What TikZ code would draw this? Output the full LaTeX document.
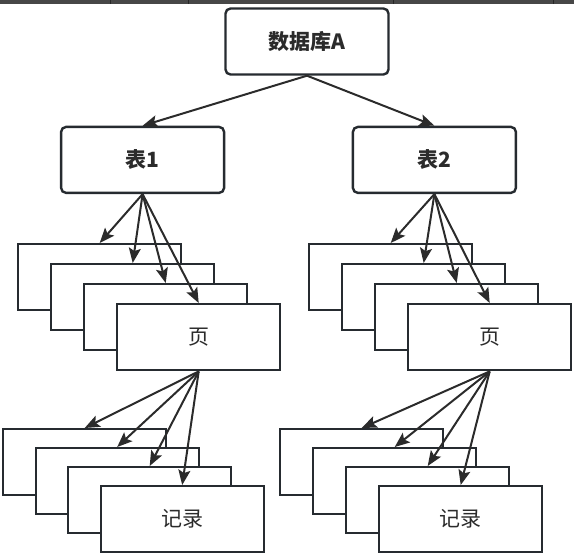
\documentclass[tikz,border=0pt]{standalone}
\usepackage{fontspec}
\newfontfamily\cjk{Noto Sans CJK SC}
\usetikzlibrary{arrows.meta, positioning}
\usepackage{xcolor}
\definecolor{linegray}{HTML}{262B30}
\definecolor{textgray}{HTML}{2B2B2B}
\definecolor{bargray}{HTML}{474747}

\begin{document}
\begin{tikzpicture}[
x=1pt, y=1pt,
roundbox/.style={draw=linegray,
line width=2.4pt,
rounded corners=5pt,
fill=white,
minimum width=163pt,
minimum height=66pt,
text=textgray,
font=\cjk\bfseries\fontsize{21}{25}\selectfont},
sheet/.style={draw=linegray,
line width=2.4pt,
fill=white,
minimum width=163pt,
minimum height=66pt,
anchor=north west,
text=textgray,
font=\cjk\fontsize{21}{25}\selectfont},
arrow/.style={-{Stealth[length=15pt, width=12pt, inset=3pt]}, line width=2pt, draw=textgray}
]
\useasboundingbox (0,0) rectangle (574,-555);

% strip along the top edge
\fill[bargray] (0,0) rectangle (574,-3.5);
\draw[black!85, line width=1pt] (110,0) -- (110,-3.5) (188.5,0) -- (188.5,-3.5)
(393.5,0) -- (393.5,-3.5) (553.5,0) -- (553.5,-3.5);

\node[roundbox] (db) at (307,-41.5) {数据库A};
\node[roundbox, below left=50pt and -1pt of db] (tbl1) {表1};
\node[roundbox, below right=50pt and -38pt of db] (tbl2) {表2};

% pages of table 1
\node[sheet] (page1a) at (17,-243) {};
\node[sheet] (page1b) at ([shift={(33,-20)}]page1a.north west) {};
\node[sheet] (page1c) at ([shift={(33,-20)}]page1b.north west) {};
\node[sheet] (page1d) at ([shift={(33,-20)}]page1c.north west) {页};

% pages of table 2
\node[sheet] (page2a) at (308,-243) {};
\node[sheet] (page2b) at ([shift={(33,-20)}]page2a.north west) {};
\node[sheet] (page2c) at ([shift={(33,-20)}]page2b.north west) {};
\node[sheet] (page2d) at ([shift={(33,-20)}]page2c.north west) {页};

% records
\node[sheet] (rec1a) at (2,-428) {};
\node[sheet] (rec1b) at ([shift={(32.5,-19)}]rec1a.north west) {};
\node[sheet] (rec1c) at ([shift={(32.5,-19)}]rec1b.north west) {};
\node[sheet] (rec1d) at ([shift={(32.5,-19)}]rec1c.north west) {记录};

\node[sheet] (rec2a) at (279,-428) {};
\node[sheet] (rec2b) at ([shift={(33,-19)}]rec2a.north west) {};
\node[sheet] (rec2c) at ([shift={(33,-19)}]rec2b.north west) {};
\node[sheet] (rec2d) at ([shift={(33,-19)}]rec2c.north west) {记录};

\draw[arrow] (db.south) -- (tbl1.north);
\draw[arrow] (db.south) -- (tbl2.north);

\draw[arrow] (tbl1.south) -- (page1a.north);
\draw[arrow] (tbl1.south) -- (page1b.north);
\draw[arrow] (tbl1.south) -- (page1c.north);
\draw[arrow] (tbl1.south) -- (page1d.north);

\draw[arrow] (tbl2.south) -- (page2a.north);
\draw[arrow] (tbl2.south) -- (page2b.north);
\draw[arrow] (tbl2.south) -- (page2c.north);
\draw[arrow] (tbl2.south) -- (page2d.north);

\draw[arrow] (page1d.south) -- (rec1a.north);
\draw[arrow] (page1d.south) -- (rec1b.north);
\draw[arrow] (page1d.south) -- (rec1c.north);
\draw[arrow] (page1d.south) -- (rec1d.north);

\draw[arrow] (page2d.south) -- (rec2a.north);
\draw[arrow] (page2d.south) -- (rec2b.north);
\draw[arrow] (page2d.south) -- (rec2c.north);
\draw[arrow] (page2d.south) -- (rec2d.north);

\end{tikzpicture}
\end{document}
